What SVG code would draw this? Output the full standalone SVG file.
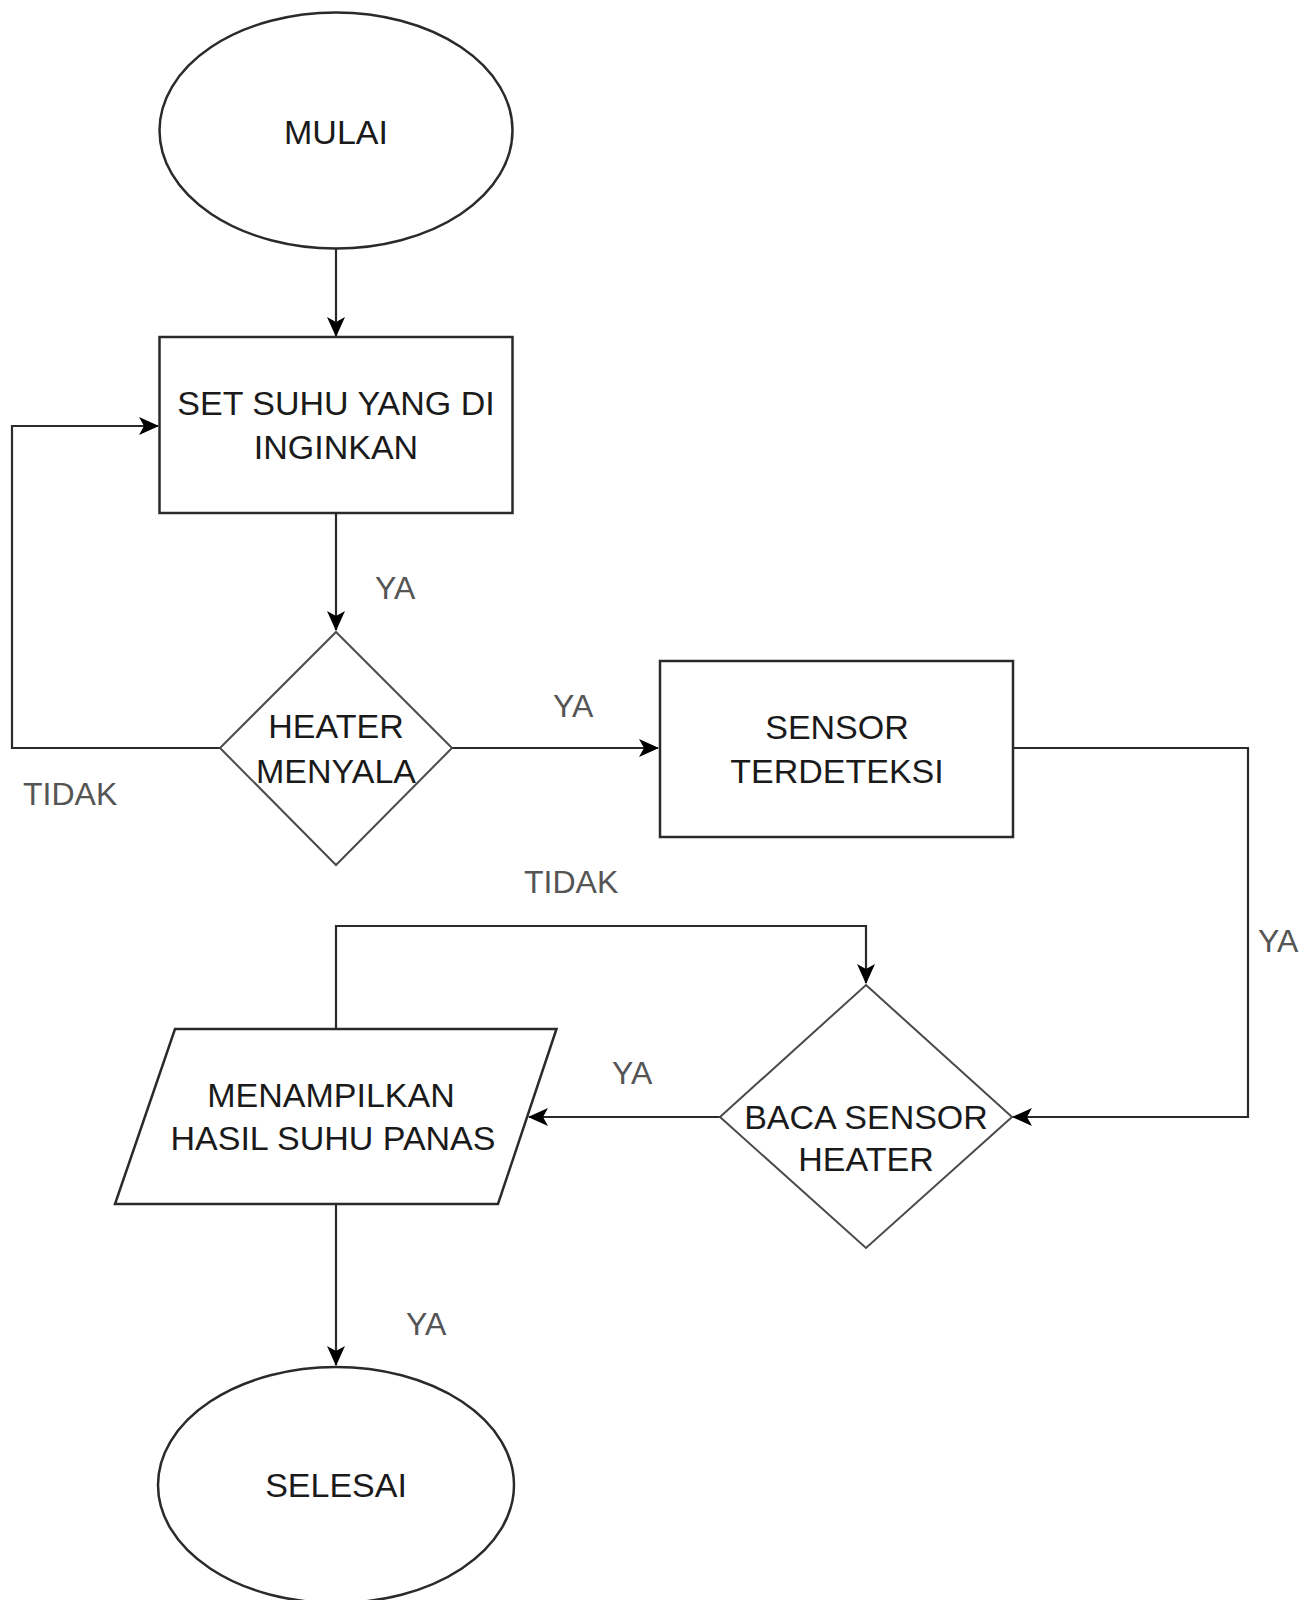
<svg xmlns="http://www.w3.org/2000/svg" width="1301" height="1600" viewBox="0 0 1301 1600">
<style>
.shape{fill:#fff;stroke:#2a2a2a;stroke-width:2.5}
.dia{fill:#fff;stroke:#4a4a4a;stroke-width:2}
.t{font-family:"Liberation Sans",Arial,sans-serif;font-size:34px;fill:#1a1a1a;text-anchor:middle}
.lbl{font-family:"Liberation Sans",Arial,sans-serif;font-size:32px;fill:#555;font-weight:300}
.conn{fill:none;stroke:#2a2a2a;stroke-width:2.2}
</style>
<defs>
<marker id="arr" viewBox="0 0 20 20" refX="19" refY="10" markerWidth="20" markerHeight="20" markerUnits="userSpaceOnUse" orient="auto">
<path d="M0,1 L20,10 L0,19 L5,10 z" fill="#000"/>
</marker>
</defs>
<rect width="1301" height="1600" fill="#fff"/>
<g id="connectors">
<path class="conn" d="M336,248 V336" marker-end="url(#arr)"/>
<path class="conn" d="M336,513 V630" marker-end="url(#arr)"/>
<path class="conn" d="M220,748 H12 V426 H158" marker-end="url(#arr)"/>
<path class="conn" d="M452,748 H658" marker-end="url(#arr)"/>
<path class="conn" d="M1013,748 H1248 V1117 H1013" marker-end="url(#arr)"/>
<path class="conn" d="M336,1029 V926 H866 V983" marker-end="url(#arr)"/>
<path class="conn" d="M720,1117 H529" marker-end="url(#arr)"/>
<path class="conn" d="M336,1204 V1365" marker-end="url(#arr)"/>
</g>
<g id="labels">
<text class="lbl" x="375" y="599">YA</text>
<text class="lbl" x="23" y="805">TIDAK</text>
<text class="lbl" x="553" y="717">YA</text>
<text class="lbl" x="524" y="893">TIDAK</text>
<text class="lbl" x="1258" y="952">YA</text>
<text class="lbl" x="612" y="1084">YA</text>
<text class="lbl" x="406" y="1335">YA</text>
</g>
<g id="mulai">
<ellipse class="shape" cx="336" cy="130.5" rx="176.5" ry="118"/>
<text class="t" x="336" y="144">MULAI</text>
</g>
<g id="set-suhu">
<rect class="shape" x="159.5" y="337" width="353" height="176"/>
<text class="t" x="336" y="415">SET SUHU YANG DI</text>
<text class="t" x="336" y="459">INGINKAN</text>
</g>
<g id="heater-menyala">
<polygon class="dia" points="336,632 452,748 336,865 220,748"/>
<text class="t" x="336" y="738">HEATER</text>
<text class="t" x="336" y="783">MENYALA</text>
</g>
<g id="sensor-terdeteksi">
<rect class="shape" x="660" y="661" width="353" height="176"/>
<text class="t" x="837" y="739">SENSOR</text>
<text class="t" x="837" y="783">TERDETEKSI</text>
</g>
<g id="baca-sensor">
<polygon class="dia" points="866,985 1012,1117 866,1248 720,1117"/>
<text class="t" x="866" y="1129">BACA SENSOR</text>
<text class="t" x="866" y="1171">HEATER</text>
</g>
<g id="menampilkan">
<polygon class="shape" points="175,1029 556.5,1029 498,1204 115,1204"/>
<text class="t" x="331" y="1107">MENAMPILKAN</text>
<text class="t" x="333" y="1150">HASIL SUHU PANAS</text>
</g>
<g id="selesai">
<ellipse class="shape" cx="336" cy="1485" rx="178" ry="118"/>
<text class="t" x="336" y="1497">SELESAI</text>
</g>
</svg>
